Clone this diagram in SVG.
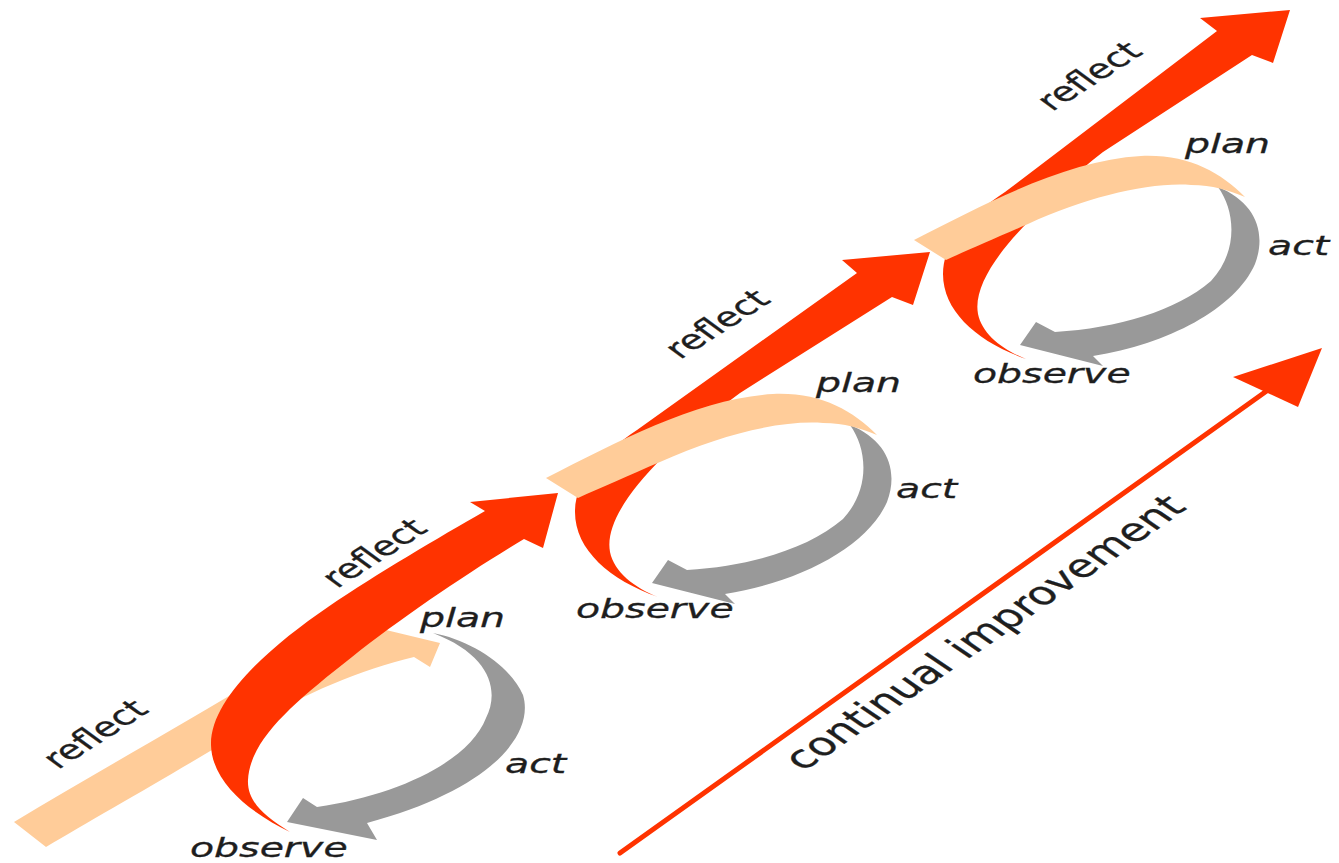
<svg xmlns="http://www.w3.org/2000/svg" width="1339" height="863" viewBox="0 0 1339 863">
<style>
.red{fill:#ff3300}
.peach{fill:#ffcc99}
.gray{fill:#999999}
text{font-family:"DejaVu Sans",Verdana,sans-serif;font-size:27px;fill:#1e1e1e;stroke:#1e1e1e;stroke-width:0.3px}
.lbl{font-style:italic}
.big{font-size:32px}
</style>
<defs>
<path id="peachRing" d="M546,478 C620,440 700,398 773,394 C820,392 852,410 877,435 C860,428 845,423 823,423 C780,420 720,435 660,462 C630,475 600,488 578,498 Z"/>
<path id="grayRing" d="M850,425 C887,440 899,470 887,502 C867,547 800,582 725,594 L735,604 L652,583 L668,560 L687,570 C750,566 808,549 843,519 C870,490 868,450 850,425 Z"/>
</defs>
<rect width="1339" height="863" fill="#ffffff"/>

<g id="improvement">
<line x1="620" y1="853" x2="1268" y2="390" stroke="#ff3300" stroke-width="5" stroke-linecap="round"/>
<polygon class="red" points="1322,348 1233,377 1298,407"/>
<text class="big" transform="translate(803,772) scale(1.46,1) rotate(-45)">continual improvement</text>
</g>

<g id="loop1">
<path class="peach" d="M14,822 C100,770 200,715 268,672 C320,650 360,632 386,630 L440,643 L430,667 L414,657 C360,670 300,695 250,727 C180,770 100,815 46,847 Z"/>
<path class="gray" d="M433,633 C470,640 510,665 523,695 C535,735 490,790 367,823 L377,840 L287,822 L303,798 L317,807 C400,795 470,760 486,718 C500,690 490,655 433,633 Z"/>
<path class="red" d="M290,832 C255,815 212,785 211,745 C210,700 268,648 328,607 C378,573 438,538 485,511 L470,502 L558,493 L543,548 L524,539 C472,570 402,617 352,657 C292,704 250,740 248,780 C247,800 262,815 290,832 Z"/>
<text transform="translate(58,770) scale(1.46,1) rotate(-43)">reflect</text>
<text class="lbl" transform="translate(420,627) scale(1.46,1)">plan</text>
<text class="lbl" transform="translate(505,773) scale(1.46,1)">act</text>
<text class="lbl" transform="translate(190,857) scale(1.46,1)">observe</text>
</g>

<g id="loop2">
<path class="red" d="M658,597 C610,580 575,550 575,512 C575,480 600,455 637,430 L857,273 L842,260 L930,252 L913,305 L892,297 L740,393 C710,415 685,435 662,458 C630,490 605,525 610,552 C614,572 635,588 658,597 Z"/>
<use href="#grayRing" class="gray"/>
<use href="#peachRing" class="peach"/>
<text transform="translate(337,589) scale(1.46,1) rotate(-43)">reflect</text>
<text class="lbl" transform="translate(816,392) scale(1.46,1)">plan</text>
<text class="lbl" transform="translate(896,498) scale(1.46,1)">act</text>
<text class="lbl" transform="translate(576,618) scale(1.46,1)">observe</text>
</g>

<g id="loop3">
<g transform="translate(368,-238)">
<path class="red" d="M658,597 C610,580 575,550 575,512 C575,480 600,455 637,430 L849,269 L832,256 L922,248 L905,301 L884,293 L735,390 C705,413 685,435 662,458 C630,490 605,525 610,552 C614,572 635,588 658,597 Z"/>
<use href="#grayRing" class="gray"/>
<use href="#peachRing" class="peach"/>
</g>
<text transform="translate(680,360) scale(1.46,1) rotate(-43)">reflect</text>
<text transform="translate(1052,112) scale(1.46,1) rotate(-43)">reflect</text>
<text class="lbl" transform="translate(1185,153) scale(1.46,1)">plan</text>
<text class="lbl" transform="translate(1268,255) scale(1.46,1)">act</text>
<text class="lbl" transform="translate(973,383) scale(1.46,1)">observe</text>
</g>
</svg>
